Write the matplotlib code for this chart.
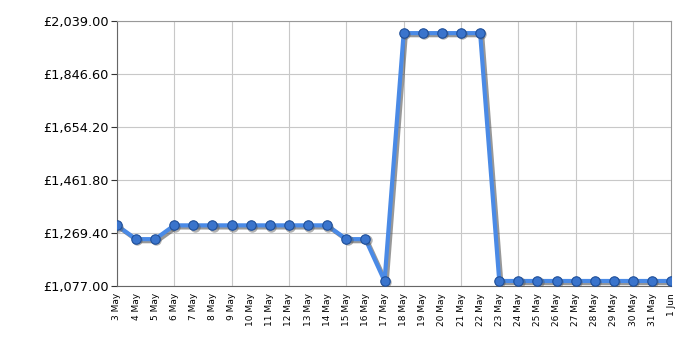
import matplotlib
matplotlib.use("Agg")
import matplotlib.pyplot as plt
import matplotlib.patheffects as pe
import matplotlib.transforms as mtransforms

# Price history
dates = ["3 May", "4 May", "5 May", "6 May", "7 May", "8 May", "9 May", "10 May",
         "11 May", "12 May", "13 May", "14 May", "15 May", "16 May", "17 May",
         "18 May", "19 May", "20 May", "21 May", "22 May", "23 May", "24 May",
         "25 May", "26 May", "27 May", "28 May", "29 May", "30 May", "31 May", "1 Jun"]
prices = [1297, 1247, 1247, 1297, 1297, 1297, 1297, 1297, 1297, 1297, 1297, 1297,
          1247, 1247, 1095, 1995, 1995, 1995, 1995, 1995, 1095, 1095, 1095, 1095,
          1095, 1095, 1095, 1095, 1095, 1095]
y_ticks = [1077.00, 1269.40, 1461.80, 1654.20, 1846.60, 2039.00]

fig = plt.figure(figsize=(7, 3.5), dpi=100)
ax = fig.add_axes([0.167, 0.183, 0.792, 0.757])

x = list(range(len(dates)))
# line with drop shadow
ax.plot(x, prices, color="#4a8ae6", lw=3, zorder=3, solid_joinstyle="round",
        path_effects=[pe.SimpleLineShadow(offset=(1.5, -1.5), shadow_color="#444444", alpha=0.55),
                      pe.Normal()])
# markers with a small shadow
shadow = ax.transData + mtransforms.ScaledTranslation(1.2 / 100, -1.2 / 100, fig.dpi_scale_trans)
ax.plot(x, prices, "o", ms=7.5, mfc="#555555", mec="none", alpha=0.45, zorder=3.5, transform=shadow)
ax.plot(x, prices, "o", ms=6.8, mfc="#3a74cc", mec="#1f4f99", mew=0.8, zorder=4)

ax.set_xlim(0, len(dates) - 1)
ax.set_ylim(y_ticks[0], y_ticks[-1])
ax.set_yticks(y_ticks)
ax.set_yticklabels(["£{:,.2f}".format(v) for v in y_ticks], fontsize=9.3)

ax.set_xticks(x)
ax.set_xticklabels(dates, rotation=90, fontsize=6.5)
ax.set_xticks(x[::3], minor=True)
ax.tick_params(axis="x", which="major", length=0, pad=5)
ax.tick_params(axis="x", which="minor", length=4, color="#333333")
ax.tick_params(axis="y", length=4, color="#333333", pad=2)

ax.grid(False)
for xi in x[::3]:
    ax.axvline(xi, color="#c8c8c8", lw=0.8, zorder=0)
for yv in y_ticks:
    ax.axhline(yv, color="#c8c8c8", lw=0.8, zorder=0)

for s in ax.spines.values():
    s.set_color("#999999")
ax.spines["left"].set_color("#666666")
ax.spines["bottom"].set_color("#666666")

fig.savefig("out.png", dpi=100)
